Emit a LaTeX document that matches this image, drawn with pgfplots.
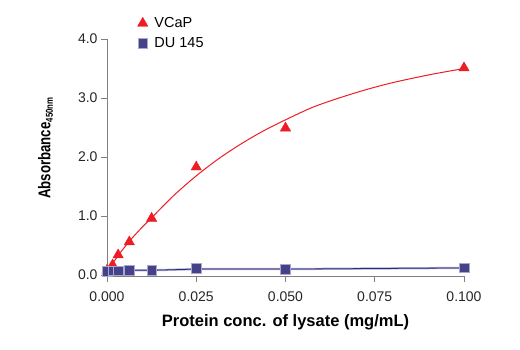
\documentclass[border=0pt]{standalone}
\usepackage{fontspec}
\setmainfont{Liberation Sans}
\newfontfamily\condfont[FakeStretch=0.78]{Liberation Sans}
\usepackage{pgfplots}
\pgfplotsset{compat=1.18}
\definecolor{vred}{HTML}{EE1C25}
\definecolor{dnavy}{HTML}{45428A}
\definecolor{lnavy}{HTML}{2E2A75}
\definecolor{lav}{HTML}{A9A7D0}
\definecolor{axgray}{HTML}{808080}
\begin{document}
\begin{tikzpicture}
\path[use as bounding box] (-107bp,-74bp) rectangle (413bp,276bp);
\begin{axis}[
  at={(0,0)}, anchor=south west,
  scale only axis, width=357bp, height=237bp,
  xmin=0, xmax=0.1, ymin=-0.017, ymax=4.0,
  axis x line=bottom, axis y line=left,
  axis line style={axgray, line width=0.6bp, -},
  tick style={axgray, line width=0.6bp},
  tick align=outside, major tick length=6bp,
  xtick={0,0.025,0.05,0.075,0.1},
  ytick={0,1,2,3,4},
  /pgf/number format/assume math mode=true,
  xticklabel style={/pgf/number format/.cd, fixed, fixed zerofill, precision=3, /tikz/.cd, font=\fontsize{14bp}{16bp}\selectfont, text=black!85, yshift=-6bp},
  yticklabel style={/pgf/number format/.cd, fixed, fixed zerofill, precision=1, /tikz/.cd, font=\fontsize{14bp}{16bp}\selectfont, text=black!85},
  scaled x ticks=false,
  clip=false,
  xlabel={Protein conc. of lysate (mg/mL)},
  xlabel style={font=\bfseries\fontsize{16.5bp}{18bp}\selectfont, at={(axis description cs:0.5,-0.197)}, anchor=center},
  ylabel={\condfont\bfseries Absorbance\textsubscript{\fontsize{10bp}{12bp}\selectfont 450nm}},
  ylabel style={font=\fontsize{17bp}{19bp}\selectfont, at={(axis description cs:-0.172,0.54)}, anchor=center},
  legend style={at={(axis description cs:0.085,1.10)}, anchor=north west, draw=none, fill=none,
    font=\fontsize{14.5bp}{16bp}\selectfont, row sep=4.5bp, inner sep=0pt, cells={anchor=west},
    /tikz/every odd column/.append style={column sep=4.5bp}},
  legend image code/.code={\draw[#1] plot coordinates {(0bp,0bp)};},
]
% fitted curves (no legend)
\addplot[vred, line width=1bp, smooth, forget plot] coordinates {
(0,0.05) (0.003125,0.33) (0.00625,0.57) (0.009375,0.78) (0.0125,0.97)
(0.01875,1.35) (0.025,1.68) (0.03125,1.97) (0.0375,2.22) (0.04375,2.44)
(0.05,2.63) (0.0575,2.84) (0.065,3.00) (0.0725,3.14) (0.08,3.26)
(0.09,3.39) (0.1,3.50)};
\addplot[lav, line width=2.2bp, forget plot] coordinates {
(0,0.06) (0.0015625,0.07) (0.003125,0.07) (0.00625,0.08) (0.0125,0.08)
(0.025,0.10) (0.05,0.10) (0.1,0.12)};
\addplot[lnavy, line width=0.8bp, forget plot] coordinates {
(0,0.06) (0.0015625,0.07) (0.003125,0.07) (0.00625,0.08) (0.0125,0.08)
(0.025,0.10) (0.05,0.10) (0.1,0.12)};
% data points
\addplot[only marks, mark=triangle*, mark size=6bp, mark options={fill=vred, draw=vred}] coordinates {
(0,0.08) (0.0015625,0.17) (0.003125,0.34) (0.00625,0.56) (0.0125,0.96)
(0.025,1.83) (0.05,2.49) (0.1,3.51)};
\addlegendentry{VCaP}
\addplot[only marks, mark=square*, mark size=4.8bp, mark options={fill=dnavy, draw=lav, line width=0.5bp}] coordinates {
(0,0.06) (0.0015625,0.07) (0.003125,0.07) (0.00625,0.08) (0.0125,0.08)
(0.025,0.11) (0.05,0.10) (0.1,0.12)};
\addlegendentry{DU 145}
\end{axis}
\end{tikzpicture}
\end{document}
